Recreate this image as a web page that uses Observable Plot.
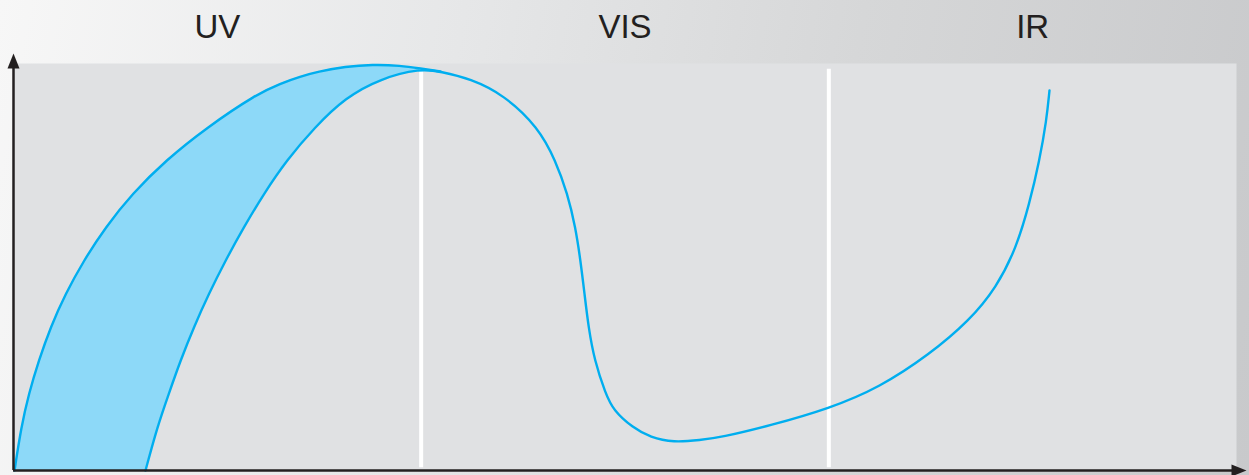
<!DOCTYPE html>
<html>
<head>
<meta charset="utf-8">
<script src="https://cdn.jsdelivr.net/npm/d3@7"></script>
<script src="https://cdn.jsdelivr.net/npm/@observablehq/plot@0.6"></script>
<style>
  html, body { margin: 0; padding: 0; background: #ffffff; }
  #chart svg { display: block; }
</style>
</head>
<body>
<div id="chart"></div>
<script>
// Spectral regions (x in relative units, each region spans 100)
const regionLabels = ["UV", "VIS", "IR"];
const regionBounds = [0, 100, 200, 300];

// Upper edge of the shaded UV band
const upperX = [0.25, 1.89, 3.75, 6.21, 9.08, 12.76, 17.24, 22.57, 29.12, 37.29, 47.51, 59.78,
  65.49, 70.4, 74.57, 81.44, 88.06, 94.93, 99.84, 104.74];
const upperY = [0, 10.64, 18.85, 27.03, 35.21, 43.41, 51.6, 59.78, 67.99, 76.17, 84.35, 92.56,
  95.09, 96.81, 97.96, 99.26, 99.75, 99.51, 98.77, 98.03];

// Main curve
const mainX = [32.38, 35.25, 38.09, 40.96, 44.23, 47.91, 52.0, 56.49, 61.4, 66.95, 73.83, 81.44,
  90.02, 99.84, 104.74, 112.1, 120.19, 128.78, 132.95, 135.89, 137.86, 139.08, 140.06, 141.05,
  142.52, 145.21, 147.18, 151.84, 156.25, 161.89, 168.52, 173.42, 185.68, 200.16, 212.43,
  224.69, 234.5, 241.13, 246.03, 249.22, 251.67, 253.39, 254.13];
const mainY = [0, 10.64, 18.85, 27.03, 35.21, 43.41, 51.6, 59.78, 67.99, 76.17, 84.28, 91.65,
  96.31, 98.77, 98.03, 96.24, 92.38, 84.28, 76.17, 68.06, 59.71, 51.6, 43.49, 35.14,
  27.03, 18.92, 14.74, 10.57, 8.11, 6.88, 7.49, 8.11, 11.06, 15.23, 20.39,
  28.5, 36.86, 44.96, 54.79, 65.6, 76.17, 86.0, 93.37];

// Axis extents
const xAxisEnd = [300];
const yAxisEnd = [100];

const upper = upperX.map((x, i) => ({x, y: upperY[i]}));
const main = mainX.map((x, i) => ({x, y: mainY[i]}));
const labels = regionLabels.map((t, i) => ({t, x: (regionBounds[i] + regionBounds[i + 1]) / 2}));
const dividers = regionBounds.slice(1, -1);

const arrowHead = {
  draw(context) {
    context.moveTo(0, -10);
    context.lineTo(6, 5);
    context.lineTo(-6, 5);
    context.closePath();
  }
};

const ink = "#231f20";
const cyan = "#00aeef";
const panel = "#e0e1e3";
const curve = "basis";

const chart = Plot.plot({
  width: 1249,
  height: 475,
  marginLeft: 13,
  marginRight: 13,
  marginTop: 63,
  marginBottom: 5,
  x: {domain: [regionBounds[0], regionBounds[regionBounds.length - 1]], axis: null},
  y: {domain: [0, 100], axis: null},
  style: {
    background: "linear-gradient(100deg, #f7f7f7 0%, #e6e7e8 35%, #d6d7d8 65%, #c8c9cb 100%)",
    fontFamily: "'Liberation Sans', Arial, sans-serif"
  },
  marks: [
    Plot.frame({fill: panel, stroke: null}),
    Plot.areaY(upper, {x: "x", y: "y", curve, fill: "#8dd9f8"}),
    Plot.areaY(main, {x: "x", y: "y", curve, fill: panel}),
    Plot.ruleX(dividers, {y1: 0.7, y2: 98.6, stroke: "#ffffff", strokeWidth: 4}),
    Plot.line(upper, {x: "x", y: "y", curve, stroke: cyan, strokeWidth: 2.4}),
    Plot.line(main, {x: "x", y: "y", curve, stroke: cyan, strokeWidth: 2.4}),
    Plot.ruleX([regionBounds[0]], {y1: 0, y2: yAxisEnd[0], stroke: ink, strokeWidth: 2.5}),
    Plot.ruleY([0], {x1: regionBounds[0], x2: xAxisEnd[0], stroke: ink, strokeWidth: 2.5}),
    Plot.dot(yAxisEnd, {x: () => regionBounds[0], y: d => d, symbol: arrowHead, fill: ink, stroke: null}),
    Plot.dot(xAxisEnd, {x: d => d, y: () => 0, symbol: arrowHead, fill: ink, stroke: null, rotate: 90}),
    Plot.text(labels, {x: "x", frameAnchor: "top", dy: -36, text: "t", fontSize: 33, fill: ink, lineAnchor: "middle"})
  ]
});
document.getElementById("chart").appendChild(chart);
</script>
</body>
</html>
